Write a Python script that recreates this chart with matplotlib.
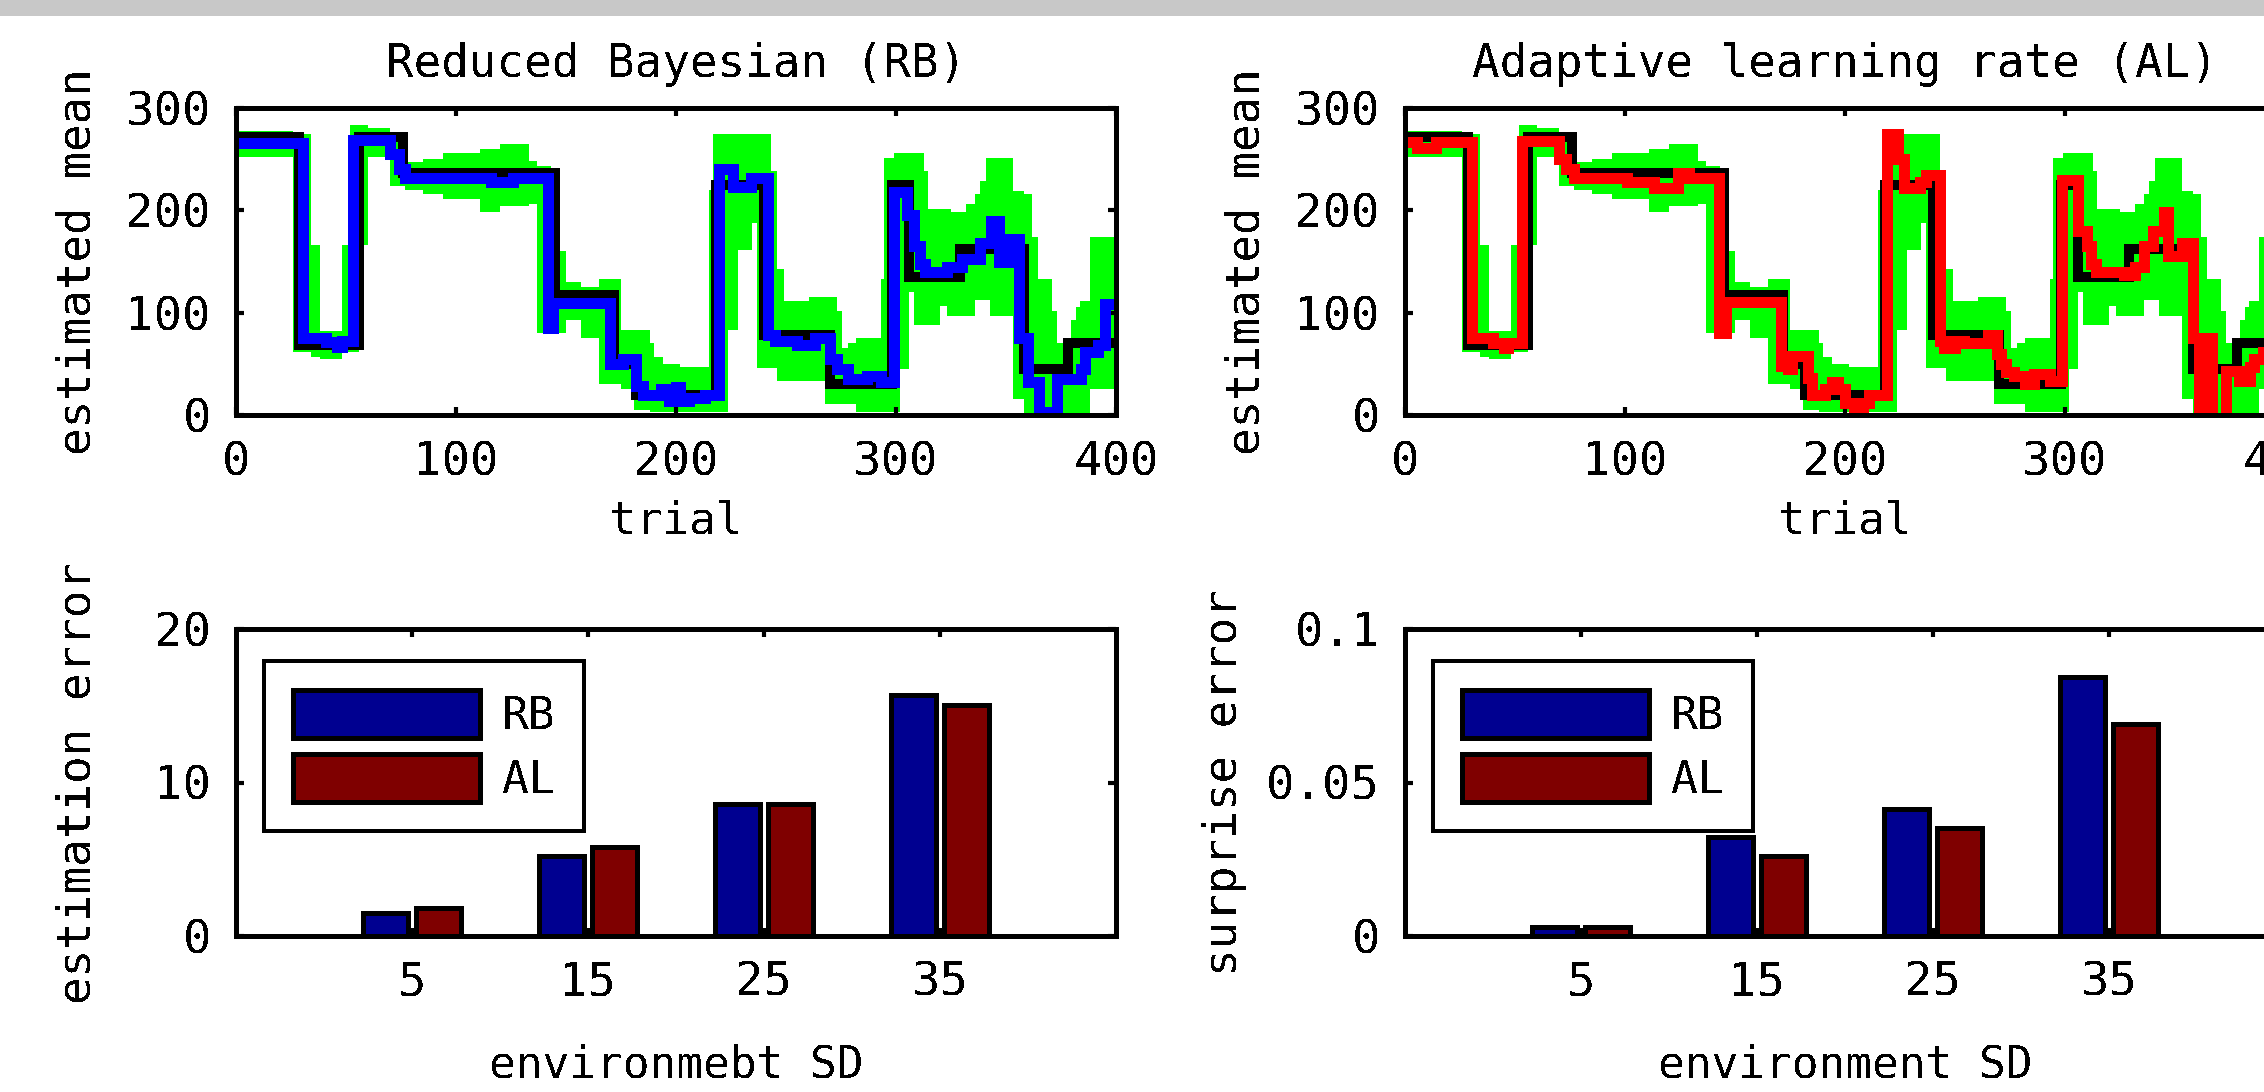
import matplotlib
matplotlib.use('Agg')
import matplotlib.pyplot as plt
from matplotlib.patches import Rectangle

plt.rcParams['font.family'] = ['DejaVu Sans Mono']
plt.rcParams['lines.antialiased'] = False
plt.rcParams['patch.antialiased'] = False
plt.rcParams['text.antialiased'] = False

# true mean of the environment (changes at these trials)
true_t = [0, 28.5, 56, 76, 145, 172, 182, 218, 240, 270, 298, 306, 329, 358, 378, 400]
true_v = [272, 68, 272, 236, 117, 50, 20, 225, 78, 30, 225, 135, 162, 45, 70, 70]

# green band (lower / upper bound), same in both panels
green_t = [0, 26, 34, 38, 48, 52, 56, 60, 70, 77, 85, 94, 111, 120, 133, 137, 143, 150, 157, 165,
           175, 181, 188, 190, 194, 202, 215, 217, 223.7, 228.3, 234.7, 237, 243, 246, 249, 260.5,
           267.5, 273, 275.5, 278, 282, 293, 294.5, 299, 301.8, 306, 308, 312.5, 314.6, 320, 323,
           325, 332, 336, 338, 340.8, 342.8, 353.4, 358, 361.8, 364.5, 371, 373, 379.6, 381.6,
           383.8, 388.4, 400]
green_lo = [252, 62, 57, 55, 62, 62, 166, 252, 224, 220, 216, 211, 198, 204, 206, 80, 80, 93, 75, 30,
            25, 5, 3, 3, 3, 3, 3, 3, 83, 161, 188, 46, 46, 33, 33, 33,
            11, 11, 11, 11, 3, 3, 3, 3, 45, 120, 88, 88, 88, 107, 97,
            97, 97, 112, 112, 112, 97, 16, 2, 2, 2, 2, 2, 2, 2,
            2, 25, 25]
green_hi = [278, 275, 166, 82, 166, 283, 283, 280, 274, 247, 250, 256, 260, 265, 248, 243, 160, 130, 125, 133,
            83, 83, 70, 57, 50, 47, 220, 275, 275, 275, 275, 275, 238, 143, 111, 115,
            115, 102, 65, 70, 75, 133, 251, 256, 256, 256, 256, 238, 201, 201, 201,
            198, 206, 216, 229, 251, 251, 219, 216, 174, 133, 102, 70, 93, 106,
            111, 174, 174]

# reduced bayesian estimate
rb_t = [0, 30.5, 41, 46, 48, 53, 70, 74, 77, 116, 126, 142, 144, 170, 176, 182, 185, 193, 197, 200,
        202, 206, 213, 219.5, 226, 234, 242, 245, 255, 263, 270, 273, 278, 287, 293, 299, 305, 308,
        311, 313, 323, 330, 338, 343, 347, 352, 356, 360, 365, 373, 384, 386, 392, 395, 400]
rb_v = [266, 75, 71, 66, 72, 269, 255, 240, 232, 228, 232, 85, 109, 50, 55, 28, 20, 25, 14, 27,
        14, 17, 20, 240, 223, 232, 78, 72, 68, 75, 55, 45, 35, 38, 32, 218, 195, 165,
        148, 140, 145, 152, 168, 190, 150, 172, 75, 32, 3, 35, 45, 62, 68, 108, 108]

# adaptive learning rate estimate
al_t = [0, 5.5, 14, 30.6, 40, 45, 47, 53, 70, 73, 77, 101, 113, 124, 129, 142.8, 146, 171, 174, 176,
        183, 185, 191, 194, 197, 200, 204, 208, 211, 219.3, 224, 227, 234, 237, 243, 245, 250, 254,
        265, 269, 271, 273, 277, 282, 286, 293, 298.5, 306, 310, 312, 314, 327, 332, 336, 340, 345,
        347, 353, 358, 361, 364, 367, 373, 379, 384, 386, 390, 400]
al_v = [267, 261, 267, 75, 70, 65, 70, 268, 250, 240, 232, 228, 222, 236, 232, 80, 110, 48, 45, 58,
        36, 20, 25, 32, 25, 12, 8, 12, 20, 275, 250, 222, 228, 235, 72, 65, 72, 70,
        78, 60, 50, 42, 38, 30, 40, 33, 230, 180, 165, 148, 140, 137, 145, 165, 180, 198,
        155, 168, 75, -10, 75, -10, 43, 33, 47, 55, 62, 62]

# bar data
env_sd = [5, 15, 25, 35]
est_err_rb = [1.5, 5.2, 8.6, 15.7]
est_err_al = [1.8, 5.8, 8.6, 15.05]
surp_err_rb = [0.003, 0.0323, 0.0414, 0.0844]
surp_err_al = [0.003, 0.026, 0.0352, 0.0689]

W, H = 2264, 1092
fig = plt.figure(figsize=(W / 100, H / 100), dpi=100)
fig.patches.append(Rectangle((0, 1 - 14 / H), 1, 14 / H, transform=fig.transFigure,
                             color='#c8c8c8', zorder=0))


def box(x0, y0):
    # pixel box -> figure fraction
    return [x0 / W, 1 - (y0 + 307) / H, 880 / W, 307 / H]


def style(ax):
    for s in ax.spines.values():
        s.set_linewidth(3.6)
    ax.tick_params(direction='in', top=True, right=True, length=6, width=3,
                   pad=18, labelsize=34)


def trace_panel(ax, est_t, est_v, col, title):
    ax.fill_between(green_t, green_lo, green_hi, step='post', color='#00ff00', lw=0)
    ax.step(true_t, true_v, where='post', color='k', lw=5.8, solid_joinstyle='miter')
    ax.step(est_t, est_v, where='post', color=col, lw=6.5, solid_joinstyle='miter')
    ax.set_xlim(0, 400)
    ax.set_ylim(0, 300)
    ax.set_xticks([0, 100, 200, 300, 400])
    ax.set_yticks([0, 100, 200, 300])
    style(ax)
    ax.set_title(title, fontsize=33, pad=22)
    ax.set_xlabel('trial', fontsize=32)
    ax.xaxis.set_label_coords(0.5, -0.345)
    ax.xaxis.label.set_va('center')
    ax.set_ylabel('estimated mean', fontsize=33)
    ax.yaxis.set_label_coords(-0.18, 0.5)
    ax.yaxis.label.set_va('center')


def bar_panel(ax, rb, al, ymax, yt, ytl, ylab, xlab, ylab_x):
    x = env_sd
    ax.bar([v - 1.5 for v in x], rb, width=2.6, color='#000090', edgecolor='k', lw=2.5, label='RB')
    ax.bar([v + 1.5 for v in x], al, width=2.6, color='#7f0000', edgecolor='k', lw=2.5, label='AL')
    ax.set_xlim(-5, 45)
    ax.set_ylim(0, ymax)
    ax.set_xticks(x)
    ax.set_yticks(yt)
    ax.set_yticklabels(ytl)
    style(ax)
    ax.set_xlabel(xlab, fontsize=32)
    ax.xaxis.set_label_coords(0.5, -0.42)
    ax.xaxis.label.set_va('center')
    ax.set_ylabel(ylab, fontsize=33)
    ax.yaxis.set_label_coords(ylab_x, 0.5)
    ax.yaxis.label.set_va('center')
    leg = ax.legend(loc='upper left', bbox_to_anchor=(0.032, 0.896), borderaxespad=0,
                    fontsize=32, handlelength=4.2, handleheight=1.3, labelspacing=0.35,
                    handletextpad=0.5, borderpad=0.65, fancybox=False, framealpha=1)
    leg.get_frame().set_edgecolor('k')
    leg.get_frame().set_linewidth(2.8)


ax1 = fig.add_axes(box(236, 108))
trace_panel(ax1, rb_t, rb_v, '#0000ff', 'Reduced Bayesian (RB)')
ax2 = fig.add_axes(box(1405, 108))
trace_panel(ax2, al_t, al_v, '#ff0000', 'Adaptive learning rate (AL)')

ax3 = fig.add_axes(box(236, 629))
bar_panel(ax3, est_err_rb, est_err_al, 20, [0, 10, 20], ['0', '10', '20'],
          'estimation error', 'environmebt SD', -0.18)
ax4 = fig.add_axes(box(1405, 629))
bar_panel(ax4, surp_err_rb, surp_err_al, 0.1, [0, 0.05, 0.1], ['0', '0.05', '0.1'],
          'surprise error', 'environment SD', -0.205)

fig.savefig('out.png', dpi=100)
